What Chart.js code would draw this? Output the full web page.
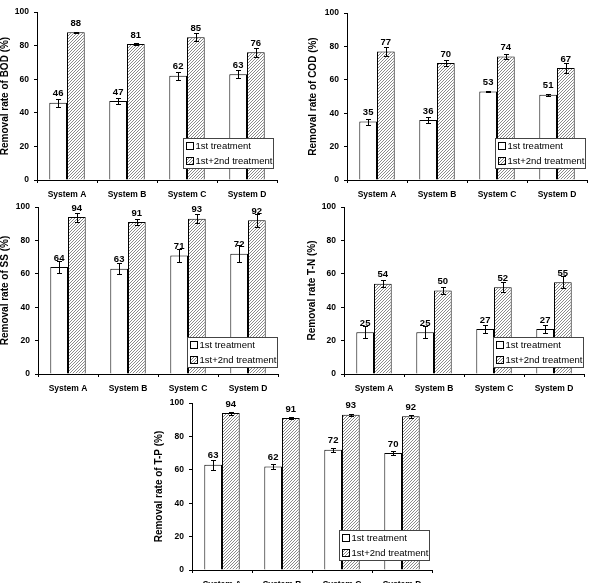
<!DOCTYPE html>
<html>
<head>
<meta charset="utf-8">
<script src="https://cdn.jsdelivr.net/npm/chart.js@4/dist/chart.umd.min.js"></script>
<style>
    html, body { margin: 0; padding: 0; background: #fff; }
    body { width: 591px; height: 583px; position: relative; overflow: hidden; }
    canvas.panel { position: absolute; }
</style>
</head>
<body>
<canvas id="bodChart" class="panel"></canvas>
<canvas id="codChart" class="panel"></canvas>
<canvas id="ssChart" class="panel"></canvas>
<canvas id="tnChart" class="panel"></canvas>
<canvas id="tpChart" class="panel"></canvas>
<script>
var systems = ['System A', 'System B', 'System C', 'System D'];
var legendLabels = ['1st treatment', '1st+2nd treatment'];
var yTickMax = 100;
var yTickStep = 20;

var bodFirst = [46, 47, 62, 63];
var bodBoth = [88, 81, 85, 76];
var bodFirstErr = [2.5, 1.7, 2.2, 2.3];
var bodBothErr = [0.3, 0.7, 2.3, 2.5];

var codFirst = [35, 36, 53, 51];
var codBoth = [77, 70, 74, 67];
var codFirstErr = [1.8, 2.0, 0.5, 0.5];
var codBothErr = [2.6, 1.9, 1.3, 3.0];

var ssFirst = [64, 63, 71, 72];
var ssBoth = [94, 91, 93, 92];
var ssFirstErr = [3.6, 3.3, 4.0, 5.0];
var ssBothErr = [2.7, 1.7, 2.6, 3.7];

var tnFirst = [25, 25, 27, 27];
var tnBoth = [54, 50, 52, 55];
var tnFirstErr = [3.7, 3.7, 2.4, 2.4];
var tnBothErr = [2.2, 1.8, 3.0, 3.5];

var tpFirst = [63, 62, 72, 70];
var tpBoth = [94, 91, 93, 92];
var tpFirstErr = [3.0, 1.6, 1.1, 1.2];
var tpBothErr = [0.9, 0.4, 0.6, 0.8];

var FONT = "'Liberation Sans', Arial, sans-serif";

var panels = [
    { id: 'bodChart', title: 'Removal rate of BOD (%)', first: bodFirst, both: bodBoth, firstErr: bodFirstErr, bothErr: bodBothErr,
      plotLeft: 37, plotTop: 12, plotH: 168, yAxisW: 38, legendRight: 4, legendBottom: 12 },
    { id: 'codChart', title: 'Removal rate of COD (%)', first: codFirst, both: codBoth, firstErr: codFirstErr, bothErr: codBothErr,
      plotLeft: 347, plotTop: 13, plotH: 167, yAxisW: 40, legendRight: 2, legendBottom: 12 },
    { id: 'ssChart', title: 'Removal rate of SS (%)', first: ssFirst, both: ssBoth, firstErr: ssFirstErr, bothErr: ssBothErr,
      plotLeft: 38, plotTop: 207, plotH: 167, yAxisW: 39, legendRight: 1, legendBottom: 7 },
    { id: 'tnChart', title: 'Removal rate T-N (%)', first: tnFirst, both: tnBoth, firstErr: tnFirstErr, bothErr: tnBothErr,
      plotLeft: 344, plotTop: 207, plotH: 167, yAxisW: 38, legendRight: 1, legendBottom: 7 },
    { id: 'tpChart', title: 'Removal rate of T-P (%)', first: tpFirst, both: tpBoth, firstErr: tpFirstErr, bothErr: tpBothErr,
      plotLeft: 192, plotTop: 403, plotH: 167, yAxisW: 39, legendRight: 3, legendBottom: 10 }
];

var PLOT_W = 240;
var PAD_TOP = 12;
var PAD_RIGHT = 8;
var X_AXIS_H = 24;

function makeHatch(ctx) {
    var tile = document.createElement('canvas');
    tile.width = 3;
    tile.height = 3;
    var t = tile.getContext('2d');
    t.fillStyle = '#ffffff';
    t.fillRect(0, 0, 3, 3);
    t.fillStyle = '#8a8a8a';
    t.fillRect(2, 0, 1, 1);
    t.fillRect(1, 1, 1, 1);
    t.fillRect(0, 2, 1, 1);
    return ctx.createPattern(tile, 'repeat');
}

// error bars, value labels and the boxed legend inside the plot
var extrasPlugin = {
    id: 'extras',
    afterDatasetsDraw: function (chart) {
        var ctx = chart.ctx;
        var yScale = chart.scales.y;
        var cfg = chart.options.plugins.extras;
        ctx.save();
        chart.data.datasets.forEach(function (ds, di) {
            var meta = chart.getDatasetMeta(di);
            meta.data.forEach(function (bar, i) {
                var v = ds.data[i];
                var e = ds.errors[i];
                var yt = Math.round(yScale.getPixelForValue(v + e)) + 0.5;
                var yb = Math.round(yScale.getPixelForValue(v - e)) + 0.5;
                var x = Math.round(bar.x) + 0.5;
                ctx.strokeStyle = '#000';
                ctx.lineWidth = 1;
                ctx.beginPath();
                ctx.moveTo(x, yt); ctx.lineTo(x, yb);
                ctx.moveTo(x - 2.5, yt); ctx.lineTo(x + 2.5, yt);
                ctx.moveTo(x - 2.5, yb); ctx.lineTo(x + 2.5, yb);
                ctx.stroke();

                ctx.fillStyle = '#000';
                ctx.font = 'bold 9.5px ' + FONT;
                ctx.textAlign = 'center';
                ctx.textBaseline = 'middle';
                ctx.fillText(String(v), bar.x, bar.y - 9);
            });
        });

        // legend box
        var area = chart.chartArea;
        var bw = 90, bh = 30;
        var bx = Math.round(area.right - cfg.legendRight - bw) + 0.5;
        var by = Math.round(area.bottom - cfg.legendBottom - bh) + 0.5;
        ctx.fillStyle = '#fff';
        ctx.fillRect(bx, by, bw, bh);
        ctx.strokeStyle = '#444';
        ctx.strokeRect(bx, by, bw, bh);
        chart.data.datasets.forEach(function (ds, di) {
            var cy = by + 8 + di * 15;
            ctx.fillStyle = ds.backgroundColor;
            ctx.fillRect(bx + 3, cy - 4, 7, 7);
            ctx.strokeStyle = '#000';
            ctx.strokeRect(bx + 3, cy - 4, 7, 7);
            ctx.fillStyle = '#000';
            ctx.font = '9.5px ' + FONT;
            ctx.textAlign = 'left';
            ctx.textBaseline = 'middle';
            ctx.fillText(ds.label, bx + 12, cy);
        });
        ctx.restore();
    }
};

panels.forEach(function (p) {
    var canvas = document.getElementById(p.id);
    var w = p.yAxisW + PLOT_W + PAD_RIGHT;
    var h = PAD_TOP + p.plotH + X_AXIS_H;
    canvas.width = w;
    canvas.height = h;
    canvas.style.width = w + 'px';
    canvas.style.height = h + 'px';
    canvas.style.left = (p.plotLeft - p.yAxisW) + 'px';
    canvas.style.top = (p.plotTop - PAD_TOP) + 'px';

    var hatch = makeHatch(canvas.getContext('2d'));

    new Chart(canvas, {
        type: 'bar',
        data: {
            labels: systems,
            datasets: [{
                label: legendLabels[0],
                data: p.first,
                errors: p.firstErr,
                backgroundColor: '#ffffff',
                borderColor: '#000',
                borderWidth: 1
            }, {
                label: legendLabels[1],
                data: p.both,
                errors: p.bothErr,
                backgroundColor: hatch,
                borderColor: '#000',
                borderWidth: 1
            }]
        },
        options: {
            responsive: false,
            animation: false,
            devicePixelRatio: 1,
            layout: { padding: { left: 0, top: PAD_TOP, right: PAD_RIGHT, bottom: 0 } },
            datasets: {
                bar: { categoryPercentage: 0.59, barPercentage: 1, borderSkipped: 'bottom' }
            },
            plugins: {
                legend: { display: false },
                tooltip: { enabled: false },
                extras: { legendRight: p.legendRight, legendBottom: p.legendBottom }
            },
            scales: {
                x: {
                    afterFit: function (s) { s.height = X_AXIS_H; },
                    grid: { display: true, drawOnChartArea: false, offset: true, tickLength: 3, color: '#000' },
                    border: { display: true, color: '#000', width: 1 },
                    ticks: { color: '#000', padding: 7, font: { family: FONT, size: 8.5, weight: 'bold' } }
                },
                y: {
                    min: 0,
                    max: yTickMax,
                    afterFit: function (s) { s.width = p.yAxisW; },
                    grid: { display: true, drawOnChartArea: false, tickLength: 3, color: '#000' },
                    border: { display: true, color: '#000', width: 1 },
                    ticks: { stepSize: yTickStep, color: '#000', padding: 5, font: { family: FONT, size: 8.5, weight: 'bold' } },
                    title: { display: true, text: p.title, color: '#000', padding: 0, font: { family: FONT, size: 10, weight: 'bold' } }
                }
            }
        },
        plugins: [extrasPlugin]
    });
});
</script>
</body>
</html>
